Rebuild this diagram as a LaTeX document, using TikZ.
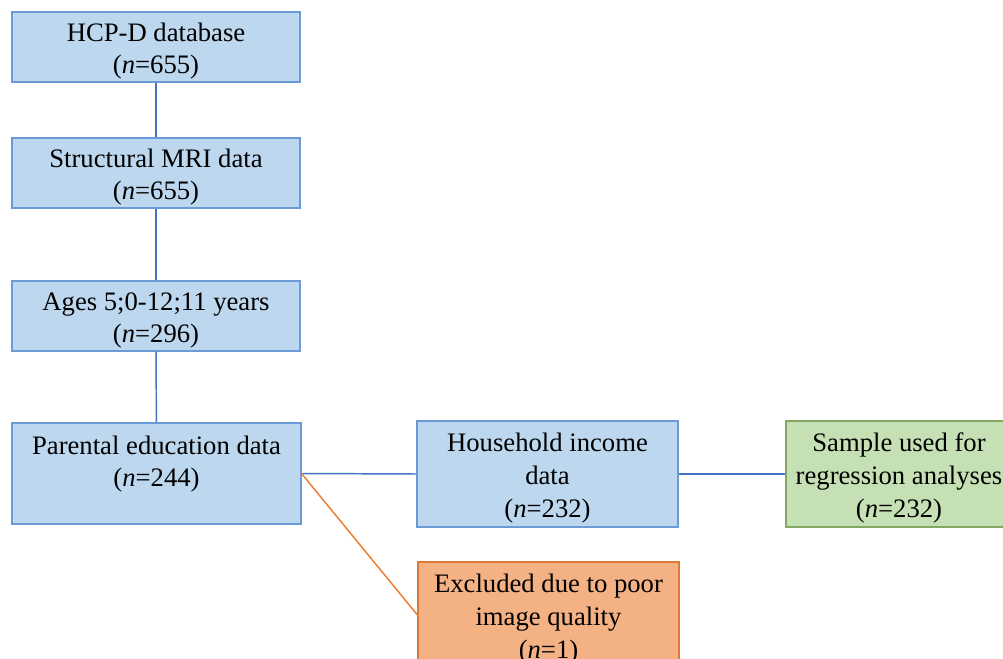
\documentclass[tikz,border=0pt]{standalone}
\usepackage{fontspec}
\setmainfont{Liberation Serif}
\definecolor{boxblue}{HTML}{BDD7EE}
\definecolor{edgeblue}{HTML}{6B9BD6}
\definecolor{lineblue}{HTML}{4472C4}
\definecolor{boxorange}{HTML}{F4B183}
\definecolor{edgeorange}{HTML}{DD7A36}
\definecolor{lineorange}{HTML}{ED7D31}
\definecolor{boxgreen}{HTML}{C5E0B4}
\definecolor{edgegreen}{HTML}{82A862}
\usetikzlibrary{positioning}
\tikzset{
	flowbox/.style={draw, line width=0.8pt, inner sep=0pt, align=center,
		font=\fontsize{20}{24.5}\selectfont}
}
\tikzset{
	bluebox/.style={flowbox, fill=boxblue, draw=edgeblue},
	orangebox/.style={flowbox, fill=boxorange, draw=edgeorange},
	greenbox/.style={flowbox, fill=boxgreen, draw=edgegreen},
	blueline/.style={draw=lineblue, line width=1.1pt},
	orangeline/.style={draw=lineorange, line width=1.1pt}
}
\newcommand{\nval}[1]{(\textit{n}=#1)}
\newcommand{\padline}{\rule{0pt}{20pt}}

\begin{document}
\begin{tikzpicture}[x=0.75pt, y=-0.75pt]
      \clip (0,0) rectangle (1003,659);
      % main column
      \node[bluebox, minimum width=216pt, minimum height=52.5pt] (hcp) at (156,47)
        {\padline HCP-D database\\\nval{655}};
      \node[bluebox, minimum width=216pt, minimum height=52.5pt] (mri) at (156,173)
        {\padline Structural MRI data\\\nval{655}};
      \node[bluebox, minimum width=216pt, minimum height=52.5pt] (ages) at (156,316)
        {\padline Ages 5;0-12;11 years\\\nval{296}};
      \node[bluebox, minimum width=216.75pt, minimum height=75.75pt] (parent) at (156.5,473.5)
        {\padline Parental education data\\\nval{244}\\\mbox{}};
      % right branch
      \node[bluebox, minimum width=195.75pt, minimum height=79.5pt] (income) at (547.5,474)
        {\padline Household income\\data\\\nval{232}};
      \node[greenbox, minimum width=169.5pt, minimum height=79.5pt] (sample) at (899,474)
        {\padline Sample used for\\regression analyses\\\nval{232}};
      \node[orangebox, minimum width=195.75pt, minimum height=79.5pt] (excluded) at (548.5,615)
        {\padline Excluded due to poor\\image quality\\\nval{1}};
      \foreach \a/\b in {hcp/mri, mri/ages, ages/parent}
        \draw[blueline] (\a) -- (\b);
      \draw[blueline] (parent.east) -- (income.west);
      \draw[blueline] (income.east) -- (sample.west);
      % exclusion
      \draw[orangeline] (parent.east) -- (excluded.west);
    \end{tikzpicture}
\end{document}
